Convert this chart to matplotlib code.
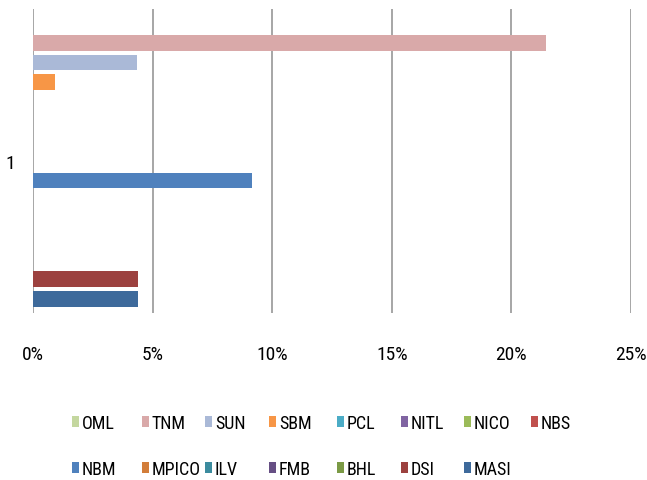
import matplotlib
matplotlib.use("Agg")
import matplotlib.pyplot as plt
from matplotlib import font_manager
from matplotlib.patches import Patch
from matplotlib.ticker import PercentFormatter

# ---- data ----
series = ["OML", "TNM", "SUN", "SBM", "PCL", "NITL", "NICO", "NBS",
          "NBM", "MPICO", "ILV", "FMB", "BHL", "DSI", "MASI"]
values = [0.0, 21.45, 4.33, 0.93, 0.0, 0.0, 0.0, 0.0,
          9.17, 0.0, 0.0, 0.0, 0.0, 4.40, 4.37]
colors = ["#c4d79f", "#d9a9a9", "#aab9d7", "#f79646", "#4bacc6", "#8064a2",
          "#9bbb59", "#c0504d", "#4f81bd", "#d27d3a", "#3b8b9e", "#664f84",
          "#7b9a45", "#9c413f", "#3e6a9b"]
category = "1"
xticks = [0, 5, 10, 15, 20, 25]

# ---- font ----
names = {f.name for f in font_manager.fontManager.ttflist}
fam = "Liberation Sans"
for cand in ["Liberation Sans Narrow", "Arial Narrow", "Roboto Condensed"]:
    if cand in names:
        fam = cand
        break
plt.rcParams["font.family"] = [fam, "DejaVu Sans"]
FS = 14
LFS = 13

W, H = 647, 481
fig = plt.figure(figsize=(W / 100, H / 100), dpi=100)
ax = fig.add_axes([33/W, 1 - 314/H, 598/W, 304/H])

n = len(series)
pos = list(range(n))
ax.barh(pos, values, height=0.79, color=colors, zorder=3)

ax.set_xlim(0, 25)
ax.set_ylim(n - 1 + 0.715, -0.715)
ax.set_xticks(xticks)
ax.xaxis.set_major_formatter(PercentFormatter(decimals=0))
ax.set_yticks([(n - 1) / 2])
ax.set_yticklabels([category])
ax.tick_params(axis="x", length=0, pad=23, labelsize=FS)
ax.tick_params(axis="y", length=0, pad=13, labelsize=FS)
ax.grid(axis="x", color="#a6a6a6", linewidth=1.4, zorder=1)
for s in ax.spines.values():
    s.set_visible(False)

# legend: 8 columns, items laid out row by row
handles = [Patch(facecolor=c, edgecolor="none") for c in colors]
col_x = [72, 142, 205, 269, 337, 401, 464, 531]
top_y = 415
for j, x in enumerate(col_x):
    idx = [j] + ([j + 8] if j + 8 < n else [])
    fig.legend([handles[i] for i in idx], [series[i] for i in idx],
               loc="upper left", bbox_to_anchor=(x / W, 1 - top_y / H),
               frameon=False, fontsize=LFS, handlelength=0.4,
               handleheight=0.5, handletextpad=0.15, labelspacing=1.55,
               borderpad=0, borderaxespad=0)

fig.savefig("out.png", dpi=100)
